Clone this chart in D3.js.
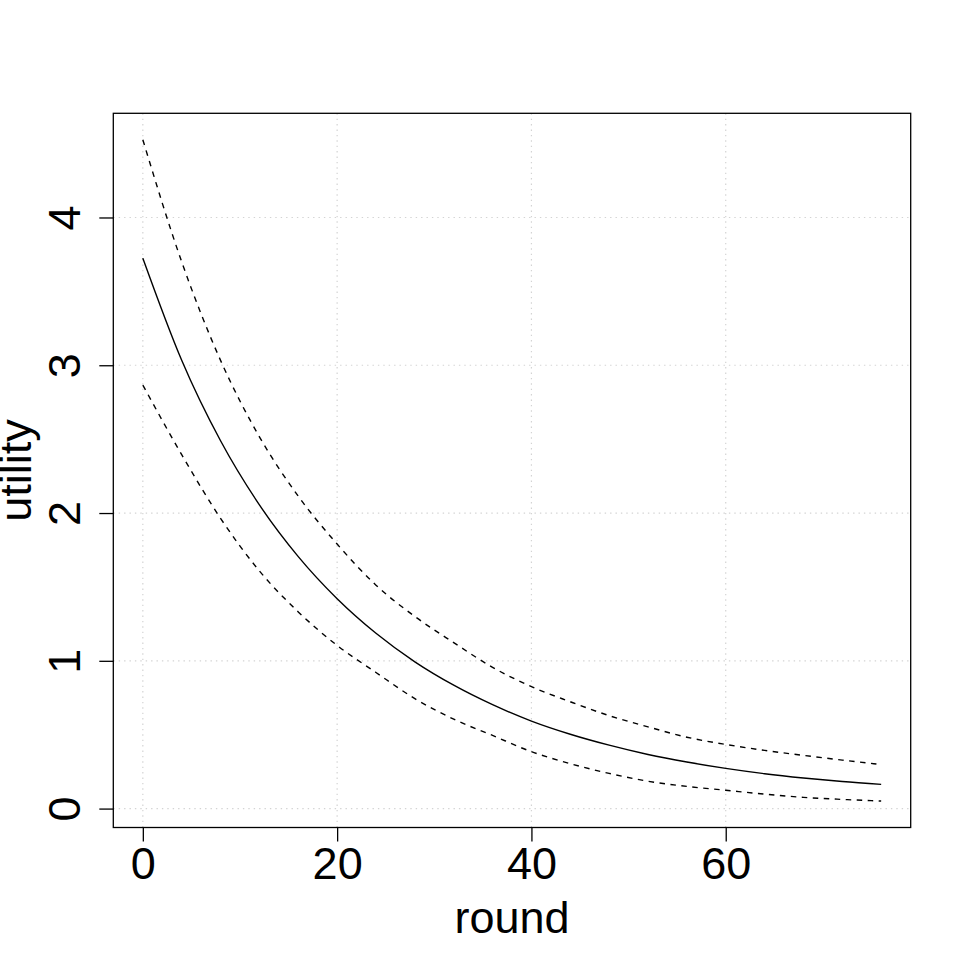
<!DOCTYPE html>
<html>
<head>
<meta charset="utf-8">
<script src="https://cdn.jsdelivr.net/npm/d3@7"></script>
<style>
  html, body { margin: 0; padding: 0; background: #fff; }
  svg { display: block; font-family: "Liberation Sans", Arial, Helvetica, sans-serif; }
</style>
</head>
<body>
<div id="chart"></div>
<script>
// values, every 4 rounds
const rounds = [0, 4, 8, 12, 16, 20, 24, 28, 32, 36, 40, 44, 48, 52, 56, 60, 64, 68, 72, 76];
const utilityMean = [3.725, 3.034, 2.489, 2.055, 1.705, 1.420, 1.186, 0.993, 0.835, 0.703,
                     0.592, 0.503, 0.429, 0.366, 0.315, 0.272, 0.236, 0.207, 0.183, 0.164];
const utilityUpper = [4.526, 3.700, 3.033, 2.516, 2.114, 1.790, 1.512, 1.300, 1.123, 0.956,
                      0.825, 0.723, 0.629, 0.553, 0.483, 0.434, 0.394, 0.360, 0.328, 0.298];
const utilityLower = [2.866, 2.395, 1.964, 1.608, 1.331, 1.104, 0.921, 0.744, 0.605, 0.495,
                      0.385, 0.304, 0.238, 0.185, 0.150, 0.124, 0.098, 0.076, 0.062, 0.051];
const xTicks = [0, 20, 40, 60];
const yTicks = [0, 1, 2, 3, 4];

const W = 969, H = 969;
const box = { left: 113.3, right: 910.7, top: 113.3, bottom: 827.5 };
const fontSize = 45;

// R-style 4% padding of the data range
function padded(lo, hi) {
  const p = (hi - lo) * 0.04;
  return [lo - p, hi + p];
}
const allY = utilityMean.concat(utilityUpper, utilityLower);

const x = d3.scaleLinear()
  .domain(padded(d3.min(rounds), d3.max(rounds)))
  .range([box.left, box.right]);
const y = d3.scaleLinear()
  .domain(padded(d3.min(allY), d3.max(allY)))
  .range([box.bottom, box.top]);

const svg = d3.select('#chart').append('svg')
  .attr('width', W)
  .attr('height', H)
  .attr('viewBox', `0 0 ${W} ${H}`);

svg.append('rect').attr('width', W).attr('height', H).attr('fill', '#fff');

// dotted grid
const grid = svg.append('g')
  .attr('stroke', '#d3d3d3')
  .attr('stroke-width', 1.2)
  .attr('stroke-dasharray', '1.4,4');
grid.selectAll('.gx').data(xTicks).join('line')
  .attr('x1', d => x(d)).attr('x2', d => x(d))
  .attr('y1', box.top).attr('y2', box.bottom);
grid.selectAll('.gy').data(yTicks).join('line')
  .attr('y1', d => y(d)).attr('y2', d => y(d))
  .attr('x1', box.left).attr('x2', box.right);

// curves
const line = d3.line()
  .x((d, i) => x(rounds[i]))
  .y(d => y(d))
  .curve(d3.curveMonotoneX);

const series = [
  { values: utilityUpper, dash: '5.5,5.5' },
  { values: utilityLower, dash: '5.5,5.5' },
  { values: utilityMean, dash: null }
];
svg.append('g').selectAll('path').data(series).join('path')
  .attr('d', d => line(d.values))
  .attr('fill', 'none')
  .attr('stroke', '#000')
  .attr('stroke-width', 1.4)
  .attr('stroke-dasharray', d => d.dash);

// axes
const xAxis = svg.append('g')
  .attr('transform', `translate(0,${box.bottom})`)
  .call(d3.axisBottom(x).tickValues(xTicks).tickFormat(d3.format('d'))
    .tickSize(14).tickSizeOuter(0));
const yAxis = svg.append('g')
  .attr('transform', `translate(${box.left},0)`)
  .call(d3.axisLeft(y).tickValues(yTicks).tickFormat(d3.format('d'))
    .tickSize(14).tickSizeOuter(0));

[xAxis, yAxis].forEach(g => {
  g.select('.domain').remove();
  g.selectAll('.tick line').attr('stroke', '#000').attr('stroke-width', 1.3);
  g.selectAll('.tick text')
    .attr('fill', '#000')
    .attr('font-size', fontSize)
    .attr('font-family', '"Liberation Sans", Arial, Helvetica, sans-serif');
});

xAxis.selectAll('.tick text')
  .attr('y', 879.3 - box.bottom)
  .attr('dy', null);

yAxis.selectAll('.tick text')
  .attr('x', 0)
  .attr('y', 0)
  .attr('dy', null)
  .attr('text-anchor', 'middle')
  .attr('transform', `translate(${80 - box.left},0) rotate(-90)`);

// plot box
svg.append('rect')
  .attr('x', box.left).attr('y', box.top)
  .attr('width', box.right - box.left)
  .attr('height', box.bottom - box.top)
  .attr('fill', 'none')
  .attr('stroke', '#000')
  .attr('stroke-width', 1.3);

// axis titles
svg.append('text')
  .attr('x', (box.left + box.right) / 2)
  .attr('y', 933.3)
  .attr('text-anchor', 'middle')
  .attr('font-size', fontSize)
  .text('round');

svg.append('text')
  .attr('transform', `translate(31,${(box.top + box.bottom) / 2}) rotate(-90)`)
  .attr('text-anchor', 'middle')
  .attr('font-size', fontSize)
  .text('utility');
</script>
</body>
</html>
